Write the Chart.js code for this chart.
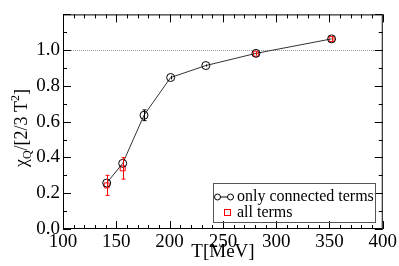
<!DOCTYPE html>
<html>
<head>
<meta charset="utf-8">
<script src="https://cdn.jsdelivr.net/npm/chart.js@4"></script>
<style>
  html, body { margin: 0; padding: 0; background: #fff; }
  #wrap { width: 399px; height: 266px; }
</style>
</head>
<body>
<div id="wrap"><canvas id="chiChart"></canvas></div>
<script>
// data
const tConnected = [141, 156, 176, 201, 234, 281, 352];
const chiConnected = [0.257, 0.367, 0.636, 0.847, 0.914, 0.982, 1.063];
const errConnected = [0.015, 0.02, 0.03, 0.01, 0.006, 0.008, 0.008];

const tAll = [141, 156, 281, 352];
const chiAll = [0.244, 0.339, 0.98, 1.062];
const errAll = [0.056, 0.06, 0.01, 0.01];

const xTicks = [100, 150, 200, 250, 300, 350, 400];
const yTicks = [0.0, 0.2, 0.4, 0.6, 0.8, 1.0];

const serif = '"Liberation Serif"';

function toPoints(xs, ys) {
  return xs.map((x, i) => ({ x: x, y: ys[i] }));
}

// error bars, drawn through the scales
const errorBars = {
  id: 'errorBars',
  afterDatasetsDraw(chart) {
    const c = chart.ctx;
    const xs = chart.scales.x, ys = chart.scales.y;
    const sets = [
      { t: tConnected, v: chiConnected, e: errConnected, color: '#000' },
      { t: tAll, v: chiAll, e: errAll, color: '#ff0000' }
    ];
    c.save();
    c.lineWidth = 1;
    sets.forEach(s => {
      c.strokeStyle = s.color;
      s.t.forEach((t, i) => {
        const px = Math.round(xs.getPixelForValue(t)) + 0.5;
        const y1 = ys.getPixelForValue(s.v[i] - s.e[i]);
        const y2 = ys.getPixelForValue(s.v[i] + s.e[i]);
        c.beginPath();
        c.moveTo(px, y1); c.lineTo(px, y2);
        if (y1 - y2 > 10) {
          c.moveTo(px - 2, y1); c.lineTo(px + 2, y1);
          c.moveTo(px - 2, y2); c.lineTo(px + 2, y2);
        }
        c.stroke();
      });
    });
    c.restore();
  }
};

// dotted reference line, frame, inward ticks, legend and axis titles
const decorations = {
  id: 'decorations',
  beforeDatasetsDraw(chart) {
    const c = chart.ctx, a = chart.chartArea;
    const py = Math.round(chart.scales.y.getPixelForValue(1.0)) + 0.5;
    c.save();
    c.strokeStyle = '#999';
    c.lineWidth = 1;
    c.setLineDash([1, 1]);
    c.beginPath();
    c.moveTo(a.left, py); c.lineTo(a.right, py);
    c.stroke();
    c.restore();
  },
  afterDraw(chart) {
    const c = chart.ctx, a = chart.chartArea;
    const xs = chart.scales.x, ys = chart.scales.y;
    c.save();
    c.strokeStyle = '#000';
    c.lineWidth = 1;
    c.strokeRect(a.left + 0.5, a.top + 0.5, a.right - a.left - 1, a.bottom - a.top - 1);

    c.beginPath();
    for (let v = 100; v <= 400; v += 10) {
      const len = v % 50 === 0 ? 8 : 4;
      const px = Math.round(xs.getPixelForValue(v)) + 0.5;
      c.moveTo(px, a.bottom); c.lineTo(px, a.bottom - len);
      c.moveTo(px, a.top); c.lineTo(px, a.top + len);
    }
    for (let k = 0; k <= 12; k++) {
      const len = k % 2 === 0 ? 8 : 4;
      const py = Math.round(ys.getPixelForValue(k / 10)) + 0.5;
      c.moveTo(a.left, py); c.lineTo(a.left + len, py);
      c.moveTo(a.right, py); c.lineTo(a.right - len, py);
    }
    c.stroke();

    // legend
    c.strokeStyle = '#555';
    c.strokeRect(213.5, 183.5, 162, 39);
    c.fillStyle = '#000';
    c.font = '16px ' + serif;
    c.textBaseline = 'middle';
    c.textAlign = 'left';
    c.fillText('only connected terms', 237, 197);
    c.fillText('all terms', 237, 213);
    c.strokeStyle = '#000';
    c.beginPath();
    c.moveTo(218, 197); c.lineTo(230, 197);
    c.stroke();
    [217.5, 230.5].forEach(cx => {
      c.beginPath();
      c.arc(cx, 197, 3, 0, Math.PI * 2);
      c.fillStyle = '#fff';
      c.fill();
      c.stroke();
    });
    c.strokeStyle = '#ff0000';
    c.strokeRect(224.5, 209.5, 6, 6);

    // x title
    c.fillStyle = '#000';
    c.font = '19px ' + serif;
    c.textAlign = 'center';
    c.textBaseline = 'alphabetic';
    c.fillText('T[MeV]', 223, 257);

    // y title with sub- and superscript
    c.translate(27, 128);
    c.rotate(-Math.PI / 2);
    const big = '18px ' + serif, small = '12px ' + serif;
    const parts = [
      { s: '\u03C7', f: big, dy: 0 },
      { s: 'Q', f: small, dy: 4 },
      { s: '/[2/3 T', f: big, dy: 0 },
      { s: '2', f: small, dy: -8 },
      { s: ']', f: big, dy: 0 }
    ];
    let total = 0;
    parts.forEach(p => { c.font = p.f; total += c.measureText(p.s).width; });
    let x0 = -total / 2;
    c.textAlign = 'left';
    parts.forEach(p => {
      c.font = p.f;
      c.fillText(p.s, x0, p.dy);
      x0 += c.measureText(p.s).width;
    });
    c.restore();
  }
};

const ctx = document.getElementById('chiChart').getContext('2d');
const chiChart = new Chart(ctx, {
  type: 'scatter',
  data: {
    datasets: [
      {
        label: 'only connected terms',
        data: toPoints(tConnected, chiConnected),
        showLine: true,
        borderColor: '#333',
        borderWidth: 1,
        pointStyle: 'circle',
        pointRadius: 4,
        pointBorderColor: '#000',
        pointBackgroundColor: 'rgba(0,0,0,0)',
        pointBorderWidth: 1,
        tension: 0
      },
      {
        label: 'all terms',
        data: toPoints(tAll, chiAll),
        showLine: false,
        pointStyle: 'rect',
        pointRadius: 3.5,
        pointBorderColor: '#ff0000',
        pointBackgroundColor: 'rgba(0,0,0,0)',
        pointBorderWidth: 1
      }
    ]
  },
  options: {
    responsive: true,
    maintainAspectRatio: false,
    animation: false,
    layout: { padding: { top: 1, right: 16, left: 0, bottom: 0 } },
    plugins: { legend: { display: false }, tooltip: { enabled: false } },
    scales: {
      x: {
        type: 'linear',
        min: 100,
        max: 400,
        afterFit(scale) { scale.height = 37; },
        afterBuildTicks(scale) { scale.ticks = xTicks.map(v => ({ value: v })); },
        grid: { display: false, drawTicks: false },
        border: { display: false },
        ticks: {
          autoSkip: false,
          maxRotation: 0,
          padding: 2,
          color: '#000',
          font: { family: serif, size: 19 }
        }
      },
      y: {
        min: 0,
        max: 1.2,
        afterFit(scale) { scale.width = 63; },
        afterBuildTicks(scale) { scale.ticks = yTicks.map(v => ({ value: v })); },
        grid: { display: false, drawTicks: false },
        border: { display: false },
        ticks: {
          padding: 3,
          color: '#000',
          font: { family: serif, size: 19 },
          callback: v => v.toFixed(1)
        }
      }
    }
  },
  plugins: [errorBars, decorations]
});
</script>
</body>
</html>
